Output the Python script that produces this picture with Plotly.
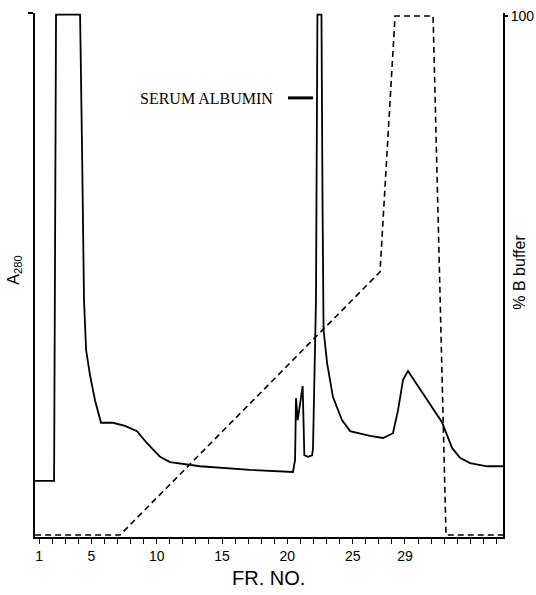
import plotly.graph_objects as go

# Absorbance trace (A280, relative units 0-1) vs fraction number
frac_a280 = [0.7, 2.15, 2.30, 4.14, 4.29, 4.44, 4.60, 4.90, 5.28, 5.74, 6.66, 7.58, 8.50, 9.26,
             10.26, 11.02, 13.32, 17.14, 20.43, 20.59, 20.66, 20.79, 21.17, 21.30, 21.58, 21.89,
             21.96, 22.19, 22.30, 22.61, 22.69, 22.77, 23.04, 23.49, 24.18, 24.80, 26.32, 27.32,
             28.08, 28.47, 28.85, 29.23, 31.83, 32.60, 33.21, 33.98, 35.28, 36.5]
a280 = [0.107, 0.107, 0.997, 0.997, 0.739, 0.452, 0.357, 0.309, 0.261, 0.218, 0.218, 0.212, 0.202,
        0.179, 0.153, 0.143, 0.135, 0.128, 0.124, 0.147, 0.265, 0.223, 0.288, 0.156, 0.153, 0.156,
        0.168, 0.452, 0.997, 0.997, 0.643, 0.395, 0.332, 0.267, 0.223, 0.202, 0.193, 0.189,
        0.198, 0.242, 0.300, 0.317, 0.219, 0.170, 0.151, 0.141, 0.135, 0.135]

# Gradient program (% B buffer)
frac_grad = [0.7, 7.2, 27.09, 28.24, 31.15, 32.14, 36.5]
pct_b = [0, 0, 50.7, 100, 100, 0, 0]

tick_fracs = list(range(1, 37))
labeled = {1: "1", 5: "5", 10: "10", 15: "15", 20: "20", 25: "25", 29: "29"}
tick_text = [labeled.get(t, "") for t in tick_fracs]

fig = go.Figure()
fig.add_trace(go.Scatter(x=frac_a280, y=a280, mode="lines",
                         line=dict(color="black", width=1.8), yaxis="y", showlegend=False))
fig.add_trace(go.Scatter(x=frac_grad, y=pct_b, mode="lines",
                         line=dict(color="black", width=1.6, dash="6px,4px"),
                         yaxis="y2", showlegend=False))

fig.update_layout(
    width=536, height=595,
    margin=dict(l=35, r=33, t=13, b=58, autoexpand=False),
    plot_bgcolor="white", paper_bgcolor="white",
    font=dict(family="Liberation Sans, Arial, sans-serif", color="black", size=14),
    xaxis=dict(range=[0.69, 36.5], tickvals=tick_fracs, ticktext=tick_text,
               ticks="outside", ticklen=5, tickwidth=1.3, tickcolor="black",
               showline=True, linecolor="black", linewidth=1.6, showgrid=False,
               zeroline=False, tickfont=dict(size=14), automargin=False),
    yaxis=dict(range=[0, 1.0], showline=True, linecolor="black", linewidth=2,
               showgrid=False, zeroline=False, tickvals=[1.0], ticktext=[""],
               ticks="outside", ticklen=5, tickwidth=1.5, tickcolor="black",
               automargin=False),
    yaxis2=dict(range=[-0.39, 100.58], overlaying="y", side="right",
                showline=True, linecolor="black", linewidth=2, showgrid=False,
                zeroline=False, tickvals=[100], ticktext=["100"], ticks="outside",
                ticklen=3, tickwidth=1.5, tickcolor="black", tickfont=dict(size=14),
                automargin=False),
)

fig.add_annotation(text="SERUM ALBUMIN", x=8.57, y=0.836, xref="x", yref="y",
                   xanchor="left", yanchor="middle", showarrow=False,
                   font=dict(family="Liberation Serif, Times New Roman, serif", size=16))
fig.add_shape(type="line", x0=20.05, x1=21.96, y0=0.838, y1=0.838, xref="x", yref="y",
              line=dict(color="black", width=3))

fig.add_annotation(text="A<sub>280</sub>", x=-0.043, y=0.51, xref="paper", yref="paper",
                   textangle=-90, showarrow=False, xanchor="center", yanchor="middle",
                   font=dict(size=16))
fig.add_annotation(text="% B buffer", x=1.036, y=0.506, xref="paper", yref="paper",
                   textangle=-90, showarrow=False, xanchor="center", yanchor="middle",
                   font=dict(size=16))
fig.add_annotation(text="FR. NO.", x=0.498, y=-0.078, xref="paper", yref="paper",
                   showarrow=False, xanchor="center", yanchor="middle",
                   font=dict(size=20))

fig.write_html("out.html", config={"displayModeBar": False},
               post_script="document.body.style.margin='0';document.body.style.overflow='hidden';")
